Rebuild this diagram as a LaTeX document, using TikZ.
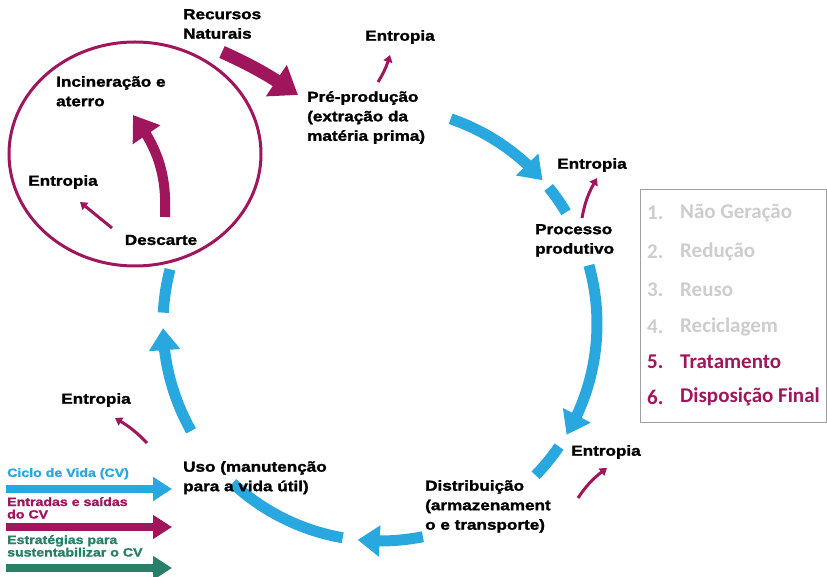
\documentclass[tikz,border=0pt]{standalone}
\usepackage{fontspec}
\setmainfont{Liberation Sans}
\newfontfamily\lbl[FakeStretch=1.18,FakeBold=1.6]{Liberation Sans Bold}
\newfontfamily\calib{Carlito}
\usetikzlibrary{arrows.meta,bending}
\definecolor{cvblue}{RGB}{41,168,224}
\definecolor{cvmag}{RGB}{160,22,92}
\definecolor{cvgreen}{RGB}{40,128,104}
\definecolor{lgray}{RGB}{205,205,205}
\begin{document}
\begin{tikzpicture}[x=1pt,y=1pt,
  lab/.style={font=\lbl\fontsize{14.5}{19.5}\selectfont, inner sep=0pt, align=left, anchor=north west},
  entlab/.style={font=\lbl\fontsize{14.5}{19.5}\selectfont, inner sep=0pt},
  leglab/.style={font=\lbl\fontsize{12}{12.5}\selectfont, inner sep=0pt, align=left, anchor=north west},
  cyc/.style={cvblue, line width=11pt},
  cycarr/.style={cyc, -{Triangle[width=30pt,length=22pt]}},
  entarr/.style={cvmag, line width=3pt, -{Triangle[width=9pt,length=7pt]}},
  bigmag/.style={cvmag, line width=11pt, -{Triangle[width=32pt,length=24pt]}},
  legarr/.style={line width=8pt, -{Triangle[width=23pt,length=19pt]}},
  item/.style={font=\calib\bfseries\fontsize{21}{24}\selectfont, inner sep=0pt, anchor=west},
]
\useasboundingbox (0,0) rectangle (827,576);
\fill[white] (0,0) rectangle (827,576);

% ---- life-cycle circle ----
\coordinate (O) at (380,252);
\draw[cycarr] ([shift={(71:217)}]O) arc[start angle=71,end angle=41.5,radius=217];
\draw[cyc] ([shift={(39:217)}]O) arc[start angle=39,end angle=31,radius=217];
\draw[cycarr] ([shift={(15.7:217)}]O) arc[start angle=15.7,end angle=-30.7,radius=217];
\draw[cyc] ([shift={(-34.4:217)}]O) arc[start angle=-34.4,end angle=-44.2,radius=217];
\draw[cycarr] ([shift={(-78.6:217)}]O) arc[start angle=-78.6,end angle=-95.9,radius=217];
\draw[cyc] ([shift={(-99.9:217)}]O) arc[start angle=-99.9,end angle=-132.8,radius=217];
\draw[cycarr] ([shift={(209.5:217)}]O) arc[start angle=209.5,end angle=181.1,radius=217];
\draw[cyc] ([shift={(177:217)}]O) arc[start angle=177,end angle=165.4,radius=217];

% ---- disposal ellipse ----
\draw[cvmag, line width=3pt] (135,422) ellipse[x radius=126, y radius=112];

% ---- labels ----
\node[lab] (rec) at (183,567) {Recursos\\Naturais};
\node[lab] (pre) at (307,485) {Pré-produção\\(extração da\\matéria prima)};
\node[lab] (inc) at (56,500) {Incineração e\\aterro};
\node[lab] (proc) at (535,352) {Processo\\produtivo};
\node[lab] (dist) at (425,96) {Distribuição\\(armazenament\\o e transporte)};
\node[lab] (uso) at (183,115) {Uso (manutenção\\para a vida útil)};
\node[entlab] (desc) at (161,336) {Descarte};

\node[entlab] (e1) at (400,539) {Entropia};
\node[entlab] (e2) at (592,411) {Entropia};
\node[entlab] (e3) at (606,124) {Entropia};
\node[entlab] (e4) at (96,176) {Entropia};
\node[entlab] (e5) at (63,394) {Entropia};

% ---- entropy arrows ----
\coordinate (e1s) at (378,494); \coordinate (e1t) at (390,521);
\coordinate (e2s) at (582,358); \coordinate (e2t) at (597,398);
\coordinate (e3s) at (578,78);  \coordinate (e3t) at (607,108);
\coordinate (e4s) at (147,133); \coordinate (e4t) at (115,158);
\coordinate (e5s) at (112,348); \coordinate (e5t) at (80,374);
\draw[entarr] (e1s) to[bend right=8] (e1t);
\draw[entarr] (e2s) to[bend left=10] (e2t);
\draw[entarr] (e3s) to[bend left=10] (e3t);
\draw[entarr] (e4s) to[bend right=8] (e4t);
\draw[entarr] (e5s) to (e5t);

% ---- big magenta arrows ----
\coordinate (recs) at (222,524); \coordinate (rect) at (298,481);
\draw[cvmag, line width=13pt, -{Triangle[width=36pt,length=26pt]}] (recs) to[bend left=5] (rect);
\coordinate (incs) at (165,359); \coordinate (inct) at (133,461);
\draw[bigmag, line width=10pt] (incs) to[bend right=20] (inct);

% ---- legend ----
\node[leglab, text=cvblue] (l1) at (7,108) {Ciclo de Vida (CV)};
\coordinate (a1s) at (6,87); \coordinate (a1t) at (172,87);
\draw[legarr, cvblue] (a1s) -- (a1t);
\node[leglab, text=cvmag] (l2) at (7,79) {Entradas e saídas\\do CV};
\coordinate (a2s) at (6,49); \coordinate (a2t) at (172,49);
\draw[legarr, cvmag] (a2s) -- (a2t);
\node[leglab, text=cvgreen] (l3) at (7,41) {Estratégias para\\sustentabilizar o CV};
\coordinate (a3s) at (6,8); \coordinate (a3t) at (172,8);
\draw[legarr, cvgreen] (a3s) -- (a3t);

% ---- strategies box ----
\draw[gray!75, line width=0.8pt] (640,154) rectangle (826,387);
\node[item, text=lgray] (n1) at (647,363) {1.};
\node[item, text=lgray] (t1) at (680,363) {Não Geração};
\node[item, text=lgray] (n2) at (647,324) {2.};
\node[item, text=lgray] (t2) at (680,324) {Redução};
\node[item, text=lgray] (n3) at (647,286) {3.};
\node[item, text=lgray] (t3) at (680,286) {Reuso};
\node[item, text=lgray] (n4) at (647,249) {4.};
\node[item, text=lgray] (t4) at (680,249) {Reciclagem};
\node[item, text=cvmag] (n5) at (647,214) {5.};
\node[item, text=cvmag] (t5) at (680,214) {Tratamento};
\node[item, text=cvmag] (n6) at (647,179) {6.};
\node[item, text=cvmag] (t6) at (680,179) {Disposição Final};
\end{tikzpicture}
\end{document}
